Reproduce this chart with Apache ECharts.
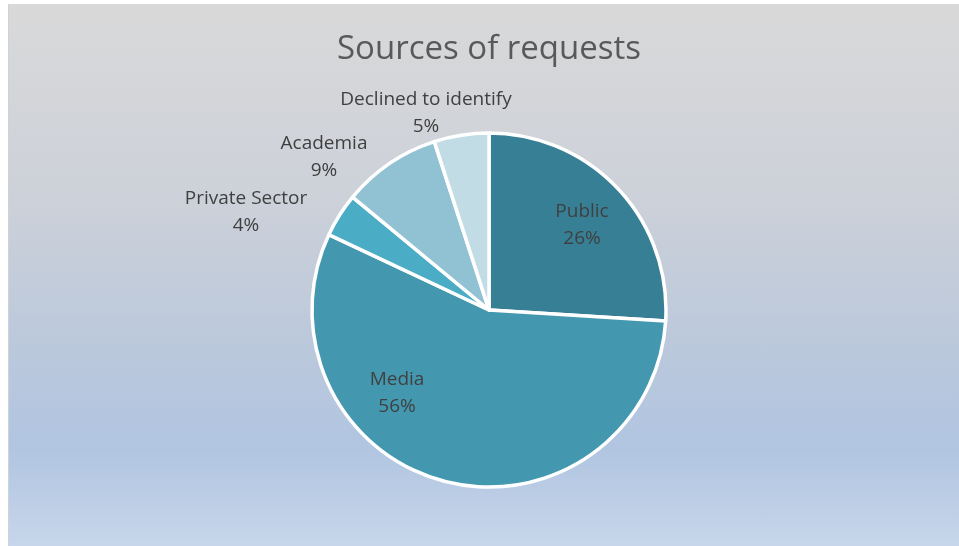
<!DOCTYPE html>
<html>
<head>
<meta charset="utf-8">
<script src="https://cdn.jsdelivr.net/npm/echarts@6/dist/echarts.min.js"></script>
<style>
  html, body { margin: 0; padding: 0; background: #ffffff; }
  #chart {
    position: absolute; left: 8px; top: 4px; width: 951px; height: 542px;
    border-left: 1px solid #cfd2d6; box-sizing: border-box;
    background: linear-gradient(to bottom, #d9d9d9 0%, #cdd1d9 35%, #bac8dc 65%, #b1c5e1 82%, #c7d6ea 100%);
  }
</style>
</head>
<body>
<div id="chart"></div>
<script>
// Requests by source, in percent
const categories = ['Public', 'Media', 'Private Sector', 'Academia', 'Declined to identify'];
const shares = [26, 56, 4, 9, 5];

const sliceColors = ['#367f94', '#4398b0', '#4aacc5', '#91c2d3', '#c2dce5'];
// label anchor points (center of the two-line label block) inside the chart box
const labelAnchors = [[573, 221], [388, 389], [237, 208], [315, 153], [417, 109]];

const chart = echarts.init(document.getElementById('chart'), null, { renderer: 'canvas' });

chart.setOption({
  backgroundColor: 'transparent',
  animation: false,
  title: {
    text: 'Sources of requests',
    left: 475,
    top: 24,
    textAlign: 'center',
    textStyle: { fontFamily: 'Open Sans', fontSize: 33, fontWeight: 'normal', color: '#595959' }
  },
  series: [{
    type: 'pie',
    center: [480, 306],
    radius: 177,
    startAngle: 90,
    clockwise: true,
    percentPrecision: 0,
    data: categories.map((name, i) => ({
      name,
      value: shares[i],
      itemStyle: { color: sliceColors[i] }
    })),
    itemStyle: { borderColor: '#ffffff', borderWidth: 3.5 },
    label: {
      show: true,
      position: 'outside',
      formatter: '{b}\n{d}%',
      fontFamily: 'Open Sans',
      fontSize: 19,
      lineHeight: 27,
      color: '#404040',
      align: 'center'
    },
    labelLine: { show: false },
    labelLayout: (params) => {
      const p = labelAnchors[params.dataIndex];
      return { x: p[0], y: p[1], align: 'center', verticalAlign: 'middle' };
    },
    emphasis: { disabled: true }
  }]
});
</script>
</body>
</html>
